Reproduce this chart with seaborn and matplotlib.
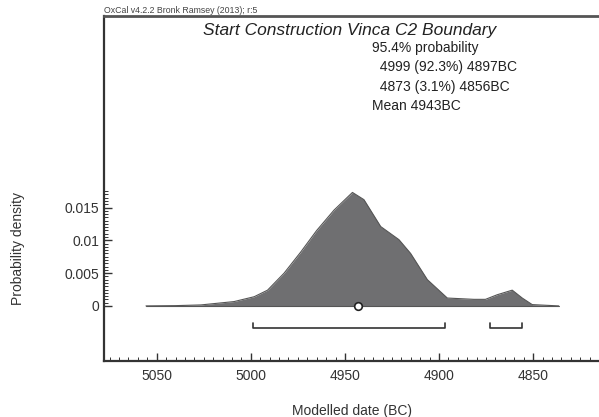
import numpy as np
import pandas as pd
import seaborn as sns
import matplotlib
matplotlib.use('Agg')
import matplotlib.pyplot as plt
from matplotlib.ticker import MultipleLocator, FixedLocator

# posterior density (date BC, density)
dates = [5055.7, 5040.0, 5026.5, 5008.9, 4998.2, 4991.1, 4982.3, 4973.5, 4965.0,
         4955.8, 4946.0, 4939.9, 4931.0, 4921.3, 4915.1, 4906.2, 4895.6, 4881.5,
         4875.3, 4869.1, 4861.1, 4855.8, 4850.5, 4836.4]
density = [0.0, 0.00004, 0.00015, 0.00066, 0.0014, 0.0024, 0.005, 0.0082, 0.0115,
           0.0146, 0.0173, 0.0162, 0.0121, 0.0101, 0.0080, 0.0040, 0.0012, 0.0010,
           0.0010, 0.0017, 0.0024, 0.0012, 0.0002, 0.0]
range_from = [4999, 4873]
range_to = [4897, 4856]
mean_date = 4943
title = 'Start Construction Vinca C2 Boundary'
info = ['95.4% probability', '  4999 (92.3%) 4897BC', '  4873 (3.1%) 4856BC', 'Mean 4943BC']

sns.set_style('ticks')
plt.rcParams['font.family'] = ['Liberation Sans', 'DejaVu Sans']

df = pd.DataFrame({'date': dates, 'density': density})

fig = plt.figure(figsize=(5.99, 4.17), dpi=100)
ax = fig.add_axes([104/599, 1-361/417, 1-104/599, (361-16)/417])

ax.fill_between(df['date'], df['density'], 0, color='#6f6f71', lw=0)
sns.lineplot(data=df, x='date', y='density', ax=ax, color='#555555', lw=0.8, sort=False)
ax.plot([df['date'].iloc[0], df['date'].iloc[-1]], [0, 0], color='#555555', lw=0.8)

# ranges
yb, yt = -0.0034, -0.0026
for a, b in zip(range_from, range_to):
    ax.plot([a, a, b, b], [yt, yb, yb, yt], color='#333333', lw=1.2)

ax.scatter([mean_date], [0], s=30, facecolor='white', edgecolor='#222222', lw=1.2, zorder=5)

ax.set_xlim(5078, 4815)
ax.set_ylim(-0.0084, 0.0442)
ax.xaxis.set_major_locator(FixedLocator([5050, 5000, 4950, 4900, 4850]))
ax.xaxis.set_minor_locator(MultipleLocator(5))
ax.set_xticklabels(['5050', '5000', '4950', '4900', '4850'])
ax.yaxis.set_major_locator(FixedLocator([0, 0.005, 0.01, 0.015]))
ax.yaxis.set_minor_locator(FixedLocator(np.arange(0, 0.0176, 0.0005)))
ax.set_yticklabels(['0', '0.005', '0.01', '0.015'])
ax.tick_params(axis='both', which='major', direction='in', length=6, width=1, color='#333333',
               labelsize=10, labelcolor='#333333')
ax.tick_params(axis='both', which='minor', direction='in', length=3, width=0.7, color='#333333')
ax.tick_params(axis='x', pad=6)

for s in ['left', 'bottom']:
    ax.spines[s].set_linewidth(1.6)
    ax.spines[s].set_color('#333333')
ax.spines['top'].set_linewidth(2)
ax.spines['top'].set_color('#555555')
ax.spines['right'].set_visible(False)

ax.set_xlabel('Modelled date (BC)', fontsize=10, color='#333333')
ax.xaxis.set_label_coords(0.5, -0.125)
ax.set_ylabel('Probability density', fontsize=10, color='#333333')
ax.yaxis.set_label_coords(-0.16, 0.325)

fig.text(104/599, 1-13/417, 'OxCal v4.2.2 Bronk Ramsey (2013); r:5', fontsize=6.3, color='#444444', va='baseline')
fig.text(350/599, 1-30/417, title, fontsize=12.5, style='italic', ha='center', va='center', color='#222222')
for i, line in enumerate(info):
    fig.text(372/599, 1-(48 + i*19.3)/417, line, fontsize=10, va='center', color='#222222')

plt.savefig('out.png', dpi=100)
